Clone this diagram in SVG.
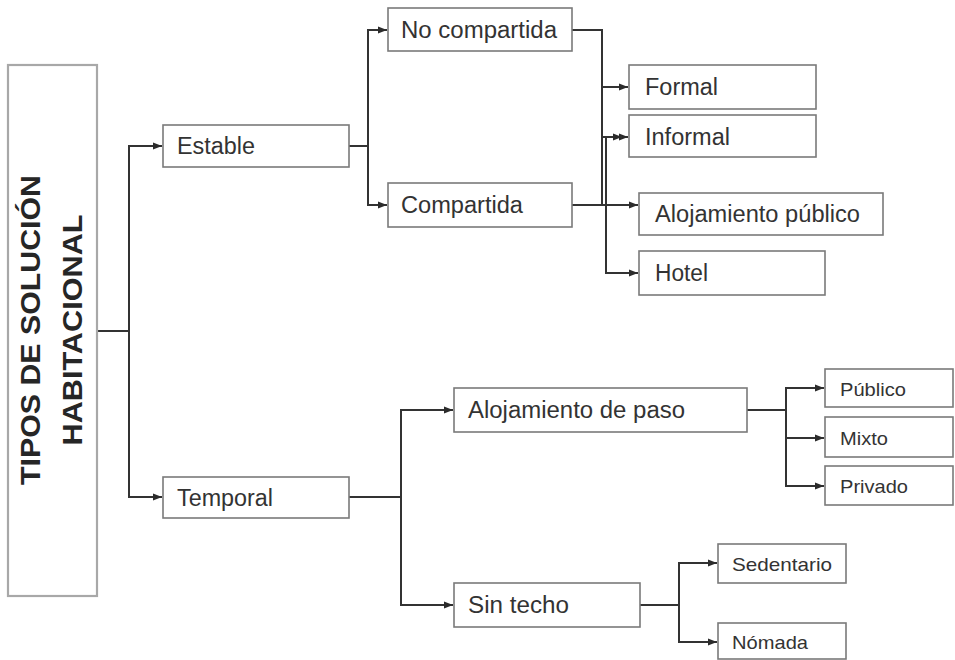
<svg xmlns="http://www.w3.org/2000/svg" width="955" height="660" viewBox="0 0 955 660">
<defs>
<marker id="arr" markerUnits="userSpaceOnUse" markerWidth="9" markerHeight="8" refX="9" refY="4" orient="auto">
<path d="M0,0.5 L9,4 L0,7.5 z" fill="#2b2b2b"/>
</marker>
<style>
.box{fill:#fff;stroke:#7a7a7a;stroke-width:1.6}
.main{fill:#fff;stroke:#a8a8a8;stroke-width:2.2}
.lbl{font-family:"Liberation Sans",Arial,sans-serif;font-size:23px;fill:#333}
.sm{font-family:"Liberation Sans",Arial,sans-serif;font-size:19px;fill:#333}
.ttl{font-family:"Liberation Sans",Arial,sans-serif;font-size:27px;font-weight:bold;fill:#262626}
.c{fill:none;stroke:#333;stroke-width:2}
.a{marker-end:url(#arr)}
</style>
</defs>
<rect width="955" height="660" fill="#fff"/>
<g id="connectors">
<path class="c" d="M97,331 H129"/>
<path class="c a" d="M129,331 V146 H162"/>
<path class="c a" d="M129,331 V497 H162"/>
<path class="c" d="M349,146 H368"/>
<path class="c a" d="M368,146 V30 H387"/>
<path class="c a" d="M368,146 V205 H387"/>
<path class="c" d="M572,30 H602 V205"/>
<path class="c a" d="M602,87 H628"/>
<path class="c a" d="M602,137 H628"/>
<path class="c a" d="M572,205 H638"/>
<path class="c a" d="M606,205 V137 H622"/>
<path class="c a" d="M606,205 V273 H638"/>
<path class="c" d="M349,497 H401"/>
<path class="c a" d="M401,497 V410 H453"/>
<path class="c a" d="M401,497 V605 H453"/>
<path class="c" d="M747,410 H786"/>
<path class="c a" d="M786,410 V388 H824"/>
<path class="c a" d="M786,410 V438 H824"/>
<path class="c a" d="M786,410 V486 H824"/>
<path class="c" d="M640,605 H679"/>
<path class="c a" d="M679,605 V563 H717"/>
<path class="c a" d="M679,605 V642 H717"/>
</g>
<g id="tipos">
<rect class="main" x="8" y="65" width="89" height="531"/>
<text class="ttl" transform="translate(40,330) rotate(-90)" x="-155" y="0" textLength="310" lengthAdjust="spacingAndGlyphs">TIPOS DE SOLUCIÓN</text>
<text class="ttl" transform="translate(82,330) rotate(-90)" x="-115.5" y="0" textLength="231" lengthAdjust="spacingAndGlyphs">HABITACIONAL</text>
</g>
<g id="estable"><rect class="box" x="163" y="125" width="186" height="42"/><text class="lbl" x="177" y="154" textLength="78" lengthAdjust="spacingAndGlyphs">Estable</text></g>
<g id="temporal"><rect class="box" x="163" y="477" width="186" height="41"/><text class="lbl" x="177" y="506" textLength="96" lengthAdjust="spacingAndGlyphs">Temporal</text></g>
<g id="no-compartida"><rect class="box" x="388" y="8" width="184" height="43"/><text class="lbl" x="401" y="38" textLength="156" lengthAdjust="spacingAndGlyphs">No compartida</text></g>
<g id="compartida"><rect class="box" x="388" y="183" width="184" height="44"/><text class="lbl" x="401" y="213" textLength="122" lengthAdjust="spacingAndGlyphs">Compartida</text></g>
<g id="formal"><rect class="box" x="629" y="65" width="187" height="44"/><text class="lbl" x="645" y="95" textLength="73" lengthAdjust="spacingAndGlyphs">Formal</text></g>
<g id="informal"><rect class="box" x="629" y="115" width="187" height="42"/><text class="lbl" x="645" y="145" textLength="85" lengthAdjust="spacingAndGlyphs">Informal</text></g>
<g id="alojamiento-publico"><rect class="box" x="639" y="193" width="244" height="42"/><text class="lbl" x="655" y="222" textLength="205" lengthAdjust="spacingAndGlyphs">Alojamiento público</text></g>
<g id="hotel"><rect class="box" x="639" y="251" width="186" height="44"/><text class="lbl" x="655" y="281" textLength="53" lengthAdjust="spacingAndGlyphs">Hotel</text></g>
<g id="alojamiento-paso"><rect class="box" x="454" y="388" width="293" height="44"/><text class="lbl" x="468" y="418" textLength="217" lengthAdjust="spacingAndGlyphs">Alojamiento de paso</text></g>
<g id="sin-techo"><rect class="box" x="454" y="583" width="186" height="44"/><text class="lbl" x="468" y="613" textLength="101" lengthAdjust="spacingAndGlyphs">Sin techo</text></g>
<g id="publico"><rect class="box" x="825" y="369" width="128" height="38"/><text class="sm" x="840" y="396" textLength="66" lengthAdjust="spacingAndGlyphs">Público</text></g>
<g id="mixto"><rect class="box" x="825" y="417" width="128" height="40"/><text class="sm" x="840" y="445" textLength="48" lengthAdjust="spacingAndGlyphs">Mixto</text></g>
<g id="privado"><rect class="box" x="825" y="466" width="128" height="39"/><text class="sm" x="840" y="493" textLength="68" lengthAdjust="spacingAndGlyphs">Privado</text></g>
<g id="sedentario"><rect class="box" x="718" y="544" width="128" height="39"/><text class="sm" x="732" y="571" textLength="100" lengthAdjust="spacingAndGlyphs">Sedentario</text></g>
<g id="nomada"><rect class="box" x="718" y="623" width="128" height="36"/><text class="sm" x="732" y="649" textLength="76" lengthAdjust="spacingAndGlyphs">Nómada</text></g>
</svg>
